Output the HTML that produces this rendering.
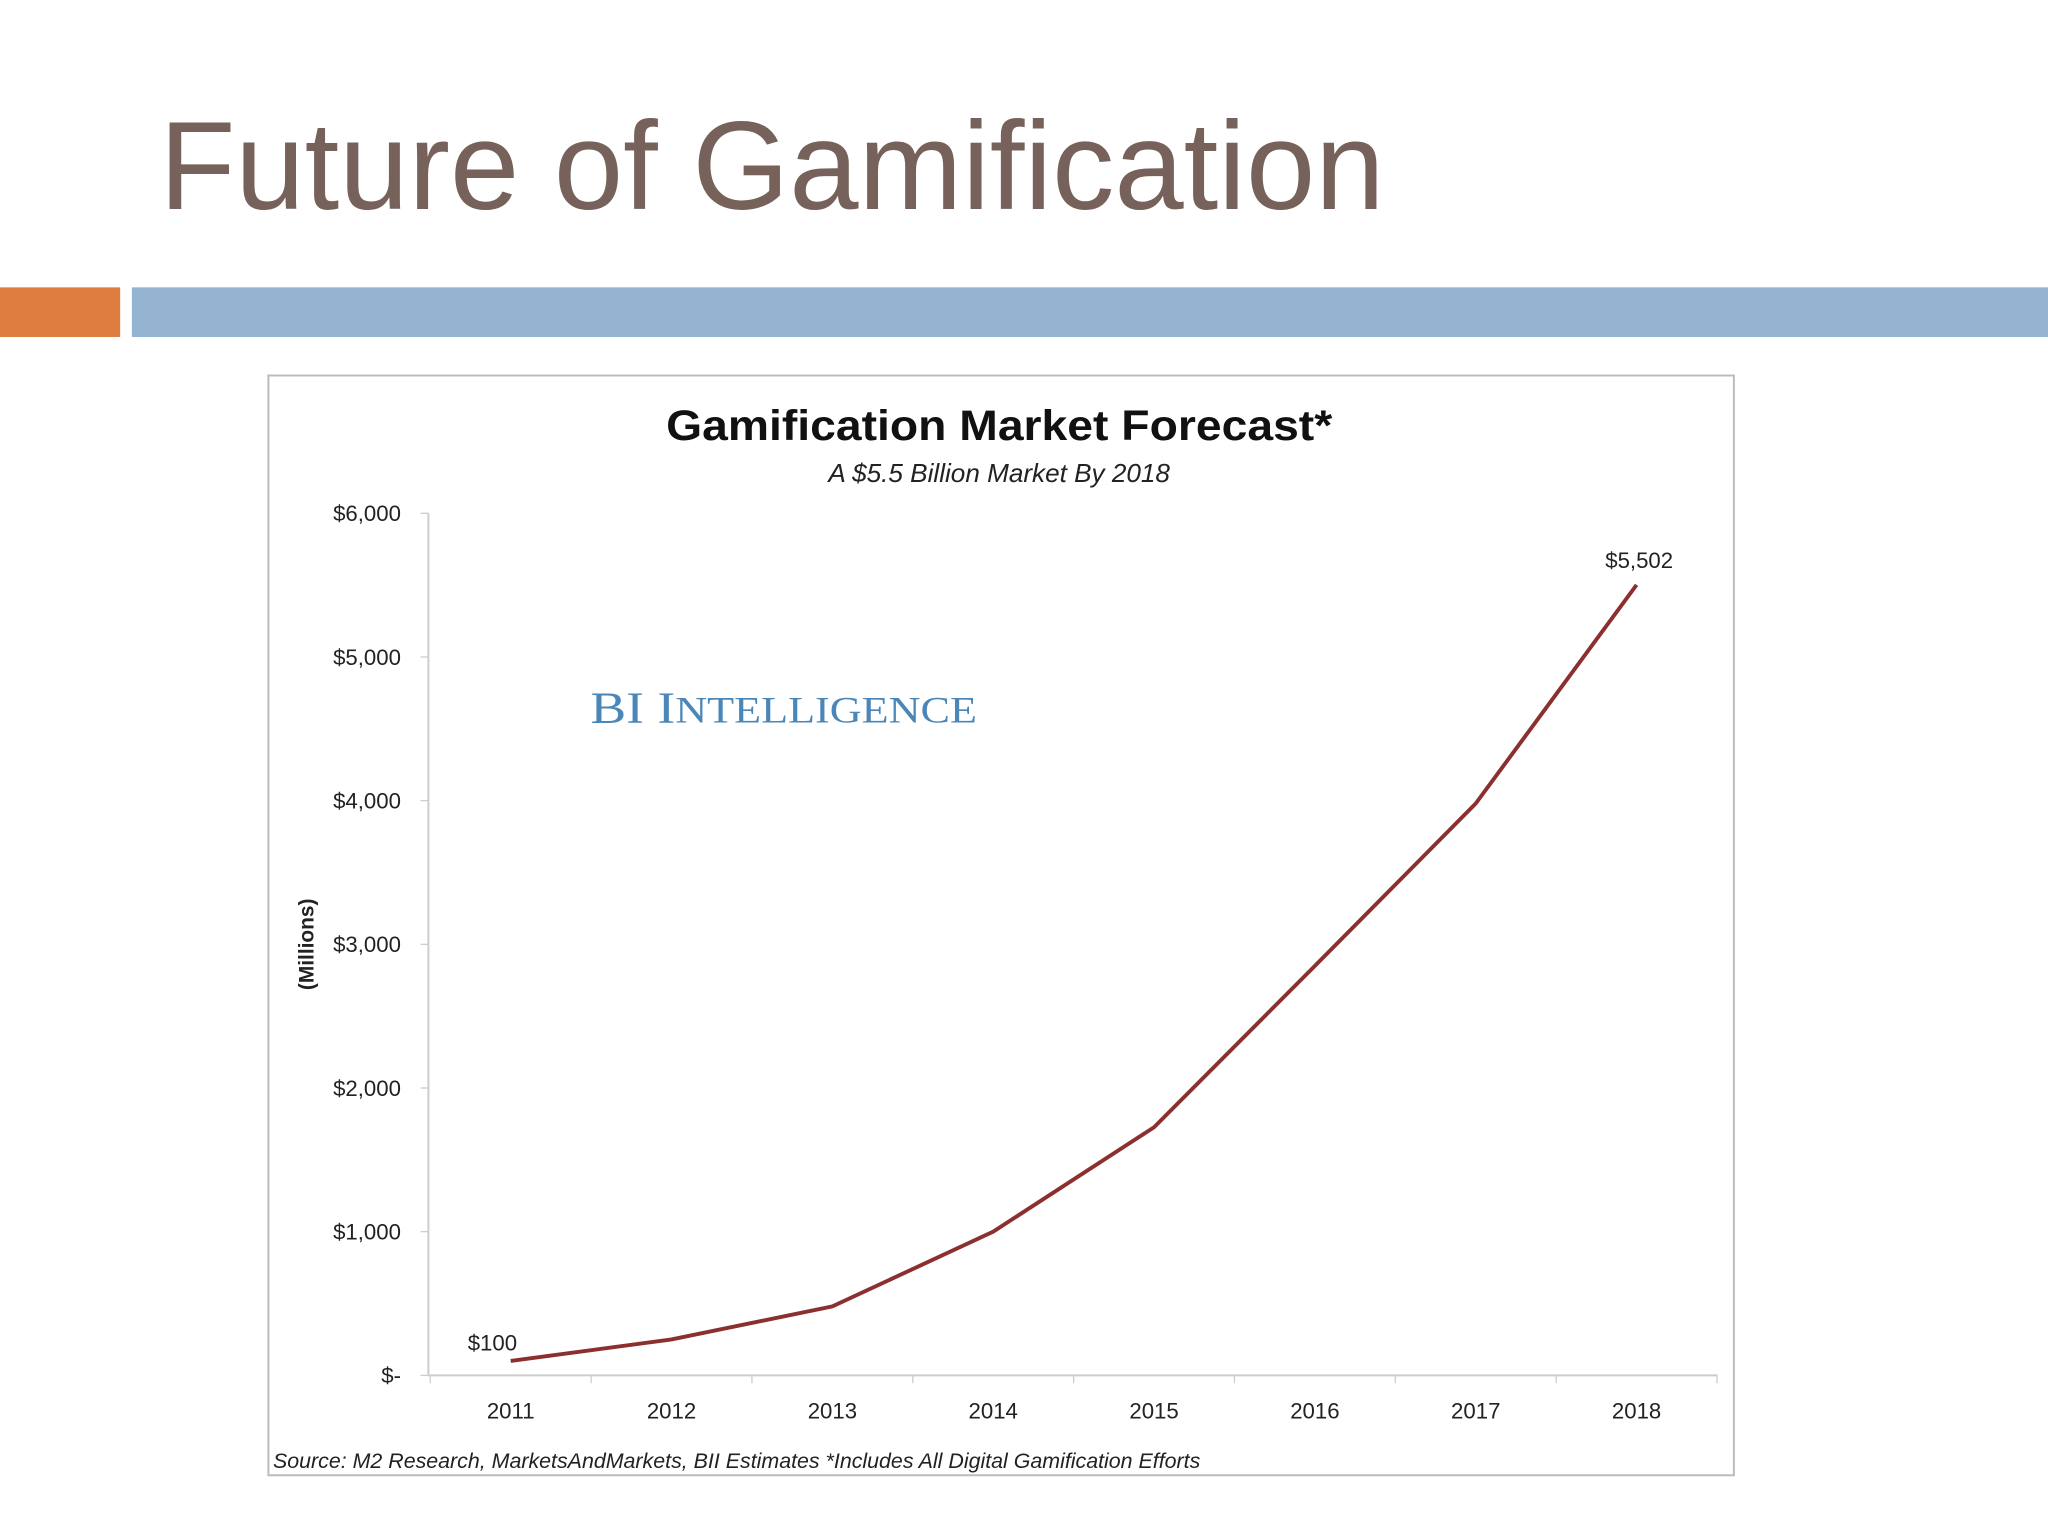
<!DOCTYPE html>
<html><head><meta charset="utf-8"><style>
html,body{margin:0;padding:0;background:#fff;}
svg{display:block;}
</style></head><body>
<svg width="2048" height="1536" viewBox="0 0 1568 1176" xmlns="http://www.w3.org/2000/svg" font-family="Liberation Sans, sans-serif">
<rect width="1568" height="1176" fill="#fff"/>
<text x="122" y="160" font-size="96" fill="#76625a" textLength="938" lengthAdjust="spacingAndGlyphs">Future of Gamification</text>
<rect x="0" y="220" width="92" height="38" fill="#df7d3f"/>
<rect x="101" y="220" width="1467" height="38" fill="#94b4d1"/>
<rect x="205.5" y="287.5" width="1122" height="842" fill="#fff" stroke="#bbb" stroke-width="1.5"/>
<text x="510" y="337" font-size="32.5" font-weight="bold" textLength="510" lengthAdjust="spacingAndGlyphs" fill="#111">Gamification Market Forecast*</text>
<text x="765" y="369" font-size="20" font-style="italic" text-anchor="middle" fill="#222">A $5.5 Billion Market By 2018</text>
<text x="452" y="553" font-size="34" fill="#4a86b8" font-family="Liberation Serif, serif" textLength="296" lengthAdjust="spacingAndGlyphs">BI I<tspan font-size="28">NTELLIGENCE</tspan></text>
<text transform="translate(240,723) rotate(-90)" font-size="16" font-weight="bold" text-anchor="middle" fill="#222">(Millions)</text>
<g id="axes"></g>
<g id="plot"></g>
<text x="209" y="1124" font-size="16" font-style="italic" fill="#222" textLength="710" lengthAdjust="spacingAndGlyphs">Source: M2 Research, MarketsAndMarkets, BII Estimates *Includes All Digital Gamification Efforts</text>
</svg>
<script>
const years = ["2011","2012","2013","2014","2015","2016","2017","2018"];
const values = [100, 250, 480, 1000, 1727, 2850, 3980, 5502];
const yTicks = [0, 1000, 2000, 3000, 4000, 5000, 6000];
const yTickLabels = ["$-", "$1,000", "$2,000", "$3,000", "$4,000", "$5,000", "$6,000"];
const NS = "http://www.w3.org/2000/svg";
const x0 = 391, xStep = (1253 - 391) / 7;
const yZero = 1053, yTop = 393, yMax = 6000;
function xs(i){ return x0 + i * xStep; }
function ys(v){ return yZero - (v / yMax) * (yZero - yTop); }
function mk(tag, attrs, parent){ const e = document.createElementNS(NS, tag); for (const k in attrs) e.setAttribute(k, attrs[k]); parent.appendChild(e); return e; }
const axes = document.getElementById('axes');
const plot = document.getElementById('plot');
const ya = mk('line', {x1:328, y1:393, x2:328, y2:1053, stroke:'#ccc', 'stroke-width':1.5}, axes);


const xa = mk('line', {x1:328, y1:1053, x2:1315, y2:1053, stroke:'#ccc', 'stroke-width':1.5}, axes);


yTicks.forEach((t, i) => {
  const tk = mk('line', {x1:322, y1:ys(t), x2:328, y2:ys(t), stroke:'#ccc'}, axes);
  
  
  const lb = mk('text', {x:307, y:ys(t) + 6, 'font-size':17, 'text-anchor':'end', fill:'#222'}, axes);
  lb.textContent = yTickLabels[i];
  
  
});
for (let i = 0; i <= years.length; i++) {
  const x = x0 - xStep / 2 + i * xStep;
  const tk = mk('line', {x1:x, y1:1053, x2:x, y2:1059, stroke:'#ccc'}, axes);
  
  
}
years.forEach((y, i) => {
  const lb = mk('text', {x:xs(i), y:1086, 'font-size':17, 'text-anchor':'middle', fill:'#222'}, axes);
  lb.textContent = y;
  
  
});
const pts = values.map((v, i) => xs(i) + ',' + ys(v)).join(' ');
const line = mk('polyline', {points:pts, fill:'none', stroke:'#8b2f2f', 'stroke-width':3}, plot);


const l1 = mk('text', {x:xs(0) - 14, y:ys(values[0]) - 8, 'font-size':17, 'text-anchor':'middle', fill:'#222'}, plot);
l1.textContent = '$' + values[0].toLocaleString('en-US');


const l2 = mk('text', {x:xs(7) + 2, y:ys(values[7]) - 13, 'font-size':17, 'text-anchor':'middle', fill:'#222'}, plot);
l2.textContent = '$' + values[7].toLocaleString('en-US');


</script>
</body></html>
